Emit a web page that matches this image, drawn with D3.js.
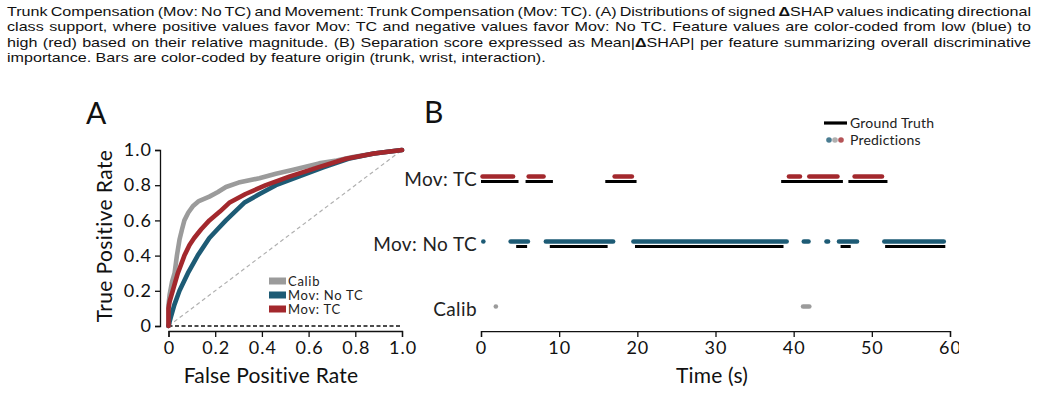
<!DOCTYPE html>
<html><head><meta charset="utf-8">
<script src="https://cdn.jsdelivr.net/npm/d3@7"></script>
<style>
html,body{margin:0;padding:0;background:#fff;}
svg{display:block;}
</style></head>
<body>
<svg id="fig" width="1041" height="394"></svg>
<script>
// ---------------- DATA ----------------
const captionLines = [
  "Trunk Compensation (Mov: No TC) and Movement: Trunk Compensation (Mov: TC). (A) Distributions of signed ΔSHAP values indicating directional",
  "class support, where positive values favor Mov: TC and negative values favor Mov: No TC. Feature values are color-coded from low (blue) to",
  "high (red) based on their relative magnitude. (B) Separation score expressed as Mean|ΔSHAP| per feature summarizing overall discriminative",
  "importance. Bars are color-coded by feature origin (trunk, wrist, interaction)."
];
const rocSeries = ["Calib", "Mov: No TC", "Mov: TC"];
const calibFpr = [0, 0, 0.005, 0.015, 0.026, 0.036, 0.047, 0.058, 0.068, 0.085, 0.104, 0.13, 0.175, 0.21, 0.246, 0.30, 0.389, 0.46, 0.53, 0.645, 0.72, 0.79, 0.88, 1];
const calibTpr = [0, 0.12, 0.18, 0.25, 0.30, 0.40, 0.49, 0.55, 0.60, 0.645, 0.68, 0.71, 0.735, 0.76, 0.79, 0.815, 0.84, 0.865, 0.886, 0.924, 0.94, 0.96, 0.98, 1];
const noTcFpr = [0, 0.01, 0.025, 0.047, 0.083, 0.125, 0.175, 0.21, 0.246, 0.324, 0.39, 0.46, 0.56, 0.66, 0.77, 0.88, 1];
const noTcTpr = [0, 0.05, 0.12, 0.20, 0.30, 0.40, 0.50, 0.55, 0.60, 0.70, 0.75, 0.80, 0.85, 0.90, 0.95, 0.98, 1];
const tcFpr = [0, 0, 0.005, 0.018, 0.04, 0.068, 0.09, 0.11, 0.14, 0.175, 0.22, 0.26, 0.33, 0.417, 0.52, 0.637, 0.76, 0.88, 1];
const tcTpr = [0, 0.10, 0.14, 0.20, 0.30, 0.40, 0.46, 0.50, 0.55, 0.60, 0.65, 0.70, 0.75, 0.80, 0.85, 0.90, 0.95, 0.98, 1];
const rateTicks = [0, 0.2, 0.4, 0.6, 0.8, 1.0];
const rateTickLabels = ["0", "0.2", "0.4", "0.6", "0.8", "1.0"];

const timelineRows = ["Calib", "Mov: No TC", "Mov: TC"];
const timeTicks = [0, 10, 20, 30, 40, 50, 60];
// [start, end] in seconds
const tcTruth = [[0, 4.8], [5.7, 9.2], [15.9, 19.9], [38.4, 46.3], [47.0, 52.0]];
const tcPred = [[0.2, 4.1], [6.1, 8.0], [17.1, 19.3], [39.4, 40.8], [42.0, 45.6], [47.8, 51.3]];
const noTcTruth = [[4.5, 5.9], [8.8, 16.2], [19.7, 38.7], [46.0, 47.3], [51.7, 59.4]];
const noTcPred = [[0.3, 0.3], [3.8, 6.0], [8.3, 16.9], [19.5, 39.1], [41.3, 41.9], [44.2, 44.4], [45.8, 48.1], [51.6, 59.2]];
const calibTruth = [];
const calibPred = [[1.9, 1.9], [41.2, 42.0]];

const colors = {"Calib": "#9b9b9b", "Mov: No TC": "#1d5b75", "Mov: TC": "#a3282d"};

// ---------------- DRAW ----------------
const svg = d3.select("#fig");
const FONT = "Lato, 'Open Sans', sans-serif";

// caption (horizontally stretched like the reference raster)
const capSx = 1.24;
const capLeft = 7, capRight = 1031;
const cap = svg.append("g").attr("transform", `translate(${capLeft},0) scale(${capSx},1)`)
  .attr("font-family", "'Liberation Sans', Arial, sans-serif").attr("font-size", 13).attr("fill", "#111");
captionLines.forEach((line, i) => {
  const t = cap.append("text").attr("x", 0).attr("y", 16 + i * 15.3);
  const parts = line.split("Δ");
  parts.forEach((p, j) => {
    if (j > 0) t.append("tspan").attr("font-weight", "bold").text("Δ");
    t.append("tspan").text(p);
  });
  if (i < captionLines.length - 1) {
    const w = t.node().getComputedTextLength();
    const spaces = (line.match(/ /g) || []).length;
    t.attr("word-spacing", ((capRight - capLeft) / capSx - w) / spaces);
  }
});

// ---------- Panel A ----------
const xA = d3.scaleLinear().domain([0, 1]).range([168.5, 402]);
const yA = d3.scaleLinear().domain([0, 1]).range([326, 150]);
const gA = svg.append("g").attr("font-family", FONT);

gA.append("text").attr("x", 86).attr("y", 124).attr("font-size", 30).attr("fill", "#111").text("A");

const yAxisA = d3.axisLeft(yA).tickValues(rateTicks).tickFormat((d, i) => rateTickLabels[i]).tickSizeOuter(0).tickSize(5).tickPadding(3);
const gy = gA.append("g").attr("transform", "translate(160,0)").call(yAxisA);
const xAxisA = d3.axisBottom(xA).tickValues(rateTicks).tickFormat((d, i) => rateTickLabels[i]).tickSizeOuter(0).tickSize(6).tickPadding(4);
const gx = gA.append("g").attr("transform", "translate(0,331)").call(xAxisA);
[gy, gx].forEach(g => {
  g.select(".domain").attr("stroke", "#111").attr("stroke-width", 1.3);
  g.selectAll(".tick line").attr("stroke", "#111").attr("stroke-width", 1.3);
  g.selectAll(".tick text").attr("font-family", FONT).attr("font-size", 18).attr("letter-spacing", 1).attr("fill", "#111");
});
gx.selectAll(".tick text").attr("dy", "0.71em").attr("dx", "0.5px");

// reference lines
gA.append("line").attr("x1", xA(0)).attr("y1", yA(0)).attr("x2", xA(1)).attr("y2", yA(1))
  .attr("stroke", "#b0b0b0").attr("stroke-width", 1.2).attr("stroke-dasharray", "4,3");
gA.append("line").attr("x1", xA(0)).attr("y1", yA(0)).attr("x2", xA(1)).attr("y2", yA(0))
  .attr("stroke", "#111").attr("stroke-width", 1.4).attr("stroke-dasharray", "4,2.5");

// ROC curves
const rocData = {
  "Calib": calibFpr.map((f, i) => [f, calibTpr[i]]),
  "Mov: No TC": noTcFpr.map((f, i) => [f, noTcTpr[i]]),
  "Mov: TC": tcFpr.map((f, i) => [f, tcTpr[i]])
};
const lineA = d3.line().x(d => xA(d[0])).y(d => yA(d[1]));
rocSeries.forEach(s => {
  gA.append("path").datum(rocData[s]).attr("d", lineA)
    .attr("fill", "none").attr("stroke", colors[s]).attr("stroke-width", 4.6)
    .attr("stroke-linejoin", "round").attr("stroke-linecap", "round");
});

// axis titles
gA.append("text").attr("x", 271).attr("y", 383).attr("text-anchor", "middle").attr("font-size", 21).attr("letter-spacing", 0.2).attr("fill", "#111").text("False Positive Rate");
gA.append("text").attr("transform", "translate(112,236) rotate(-90)").attr("text-anchor", "middle").attr("font-size", 21).attr("letter-spacing", 0.4).attr("fill", "#111").text("True Positive Rate");

// legend A
const legA = gA.append("g");
rocSeries.forEach((s, i) => {
  const yy = 281 + i * 14;
  legA.append("rect").attr("x", 269).attr("y", yy - 3.5).attr("width", 17).attr("height", 7).attr("fill", colors[s]);
  legA.append("text").attr("x", 288).attr("y", yy).attr("dy", "0.36em").attr("font-size", 13).attr("letter-spacing", 0.7).attr("fill", "#222").text(s);
});

// ---------- Panel B ----------
const xB = d3.scaleLinear().domain([0, 60]).range([481, 950]);
const yB = d3.scalePoint().domain(timelineRows).range([309, 179]);
const gB = svg.append("g").attr("font-family", FONT);
gB.append("text").attr("x", 424).attr("y", 123).attr("font-size", 30).attr("fill", "#111").text("B");

svg.append("clipPath").attr("id", "clipB").append("rect").attr("x", 400).attr("y", 0).attr("width", 559).attr("height", 394);

const xAxisB = d3.axisBottom(xB).tickValues(timeTicks).tickFormat(d3.format("d")).tickSizeOuter(0).tickSize(6).tickPadding(4);
const gxB = gB.append("g").attr("transform", "translate(0,331)").attr("clip-path", "url(#clipB)").call(xAxisB);
gxB.select(".domain").attr("stroke", "#111").attr("stroke-width", 1.3);
gxB.selectAll(".tick line").attr("stroke", "#111").attr("stroke-width", 1.3);
gxB.selectAll(".tick text").attr("font-family", FONT).attr("font-size", 18).attr("letter-spacing", 1).attr("dy", "0.71em").attr("fill", "#111");

gB.append("text").attr("x", 712).attr("y", 383).attr("text-anchor", "middle").attr("font-size", 21).attr("letter-spacing", 0.2).attr("fill", "#111").text("Time (s)");

// row labels
timelineRows.forEach(r => {
  gB.append("text").attr("x", 477).attr("y", yB(r)).attr("dy", "0.36em").attr("text-anchor", "end")
    .attr("font-size", 19).attr("letter-spacing", 0.4).attr("fill", "#222").text(r);
});

const truthByRow = {"Calib": calibTruth, "Mov: No TC": noTcTruth, "Mov: TC": tcTruth};
const predByRow = {"Calib": calibPred, "Mov: No TC": noTcPred, "Mov: TC": tcPred};
timelineRows.forEach(r => {
  gB.append("g").selectAll("line").data(truthByRow[r]).join("line")
    .attr("x1", d => xB(d[0])).attr("x2", d => xB(d[1]))
    .attr("y1", yB(r) + 2.5).attr("y2", yB(r) + 2.5)
    .attr("stroke", "#000").attr("stroke-width", 3);
  gB.append("g").selectAll("line").data(predByRow[r]).join("line")
    .attr("x1", d => xB(d[0])).attr("x2", d => xB(d[1]))
    .attr("y1", yB(r) - 2.5).attr("y2", yB(r) - 2.5)
    .attr("stroke", colors[r]).attr("stroke-width", 4.6).attr("stroke-linecap", "round");
});

// legend B
const legB = gB.append("g");
legB.append("line").attr("x1", 824).attr("x2", 847).attr("y1", 123).attr("y2", 123).attr("stroke", "#000").attr("stroke-width", 3.2);
legB.append("text").attr("x", 850).attr("y", 123).attr("dy", "0.36em").attr("font-size", 14).attr("letter-spacing", 0.2).attr("fill", "#222").text("Ground Truth");
["Mov: No TC", "Calib", "Mov: TC"].forEach((s, i) => {
  legB.append("circle").attr("cx", 829 + i * 6).attr("cy", 140).attr("r", 2.8).attr("fill", colors[s]).attr("opacity", 0.8);
});
legB.append("text").attr("x", 850).attr("y", 140).attr("dy", "0.36em").attr("font-size", 14).attr("letter-spacing", 0.2).attr("fill", "#222").text("Predictions");
</script>
</body></html>
